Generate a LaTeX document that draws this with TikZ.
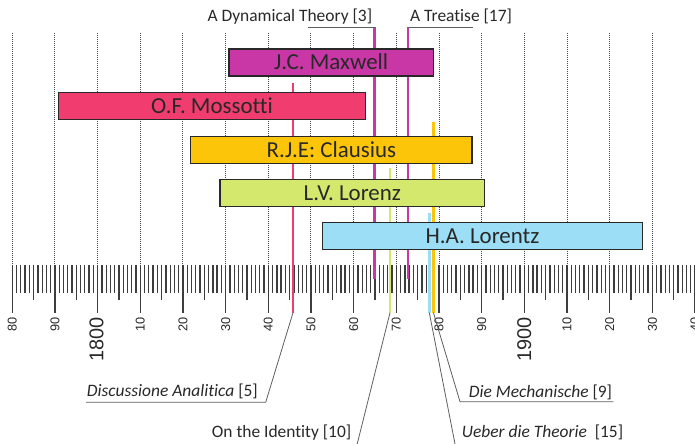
\documentclass[tikz,border=0pt]{standalone}
\usepackage{fontspec}
\setmainfont{Carlito}[Ligatures=NoCommon]
\newfontfamily\axisfont{Liberation Sans}
\definecolor{maxcol}{RGB}{200,55,165}
\definecolor{moscol}{RGB}{240,60,110}
\definecolor{clacol}{RGB}{252,197,10}
\definecolor{lvlcol}{RGB}{212,232,110}
\definecolor{halcol}{RGB}{155,222,246}
\definecolor{inkcol}{RGB}{40,40,40}

\begin{document}
\begin{tikzpicture}[x=1bp, y=-1bp,
bar/.style = {draw=inkcol, line width=1.2bp, minimum height=27bp, inner sep=0pt,
  text height=14.8bp, text depth=0pt, font=\fontsize{23}{23}\selectfont, text=inkcol},
event/.style = {line width=2.4bp},
lead/.style = {draw=inkcol!75, line width=0.8bp},
ref/.style = {font=\fontsize{17.5}{17.5}\selectfont, text=inkcol, inner sep=0pt, anchor=base west},
decade/.style = {inkcol!85, densely dotted, line width=1bp},
tick/.style = {inkcol!90, line width=1.3bp},
axis/.style = {rotate=90, anchor=east, inner sep=0pt, text=inkcol,
  font=\axisfont\fontsize{12.8}{12.8}\selectfont},
axisbig/.style = {axis, font=\axisfont\fontsize{20}{20}\selectfont}]

    \clip (0,0) rectangle (695,444);

    % decades and year ticks
    \foreach \d in {0,...,16}
        \draw[decade] ({12.3+42.67*\d},33) -- ({12.3+42.67*\d},265);
    \foreach \t in {0,...,160} {
        \pgfmathsetmacro\len{mod(\t,10)==0 ? 312.7 : (mod(\t,5)==0 ? 300 : 292.7)}
        \draw[tick] ({12.3+4.267*\t},265) -- ({12.3+4.267*\t},\len);
    }
    \foreach \d/\lab in {0/80,1/90,3/10,4/20,5/30,6/40,7/50,8/60,9/70,10/80,11/90,13/10,14/20,15/30,16/40}
        \node[axis] (yr\d) at ({12.3+42.67*\d},317) {\lab};
    \node[axisbig] (yr1800) at (96.6,317) {1800};
    \node[axisbig] (yr1900) at (524.3,317) {1900};

    % publications
    \coordinate (dynTop) at (374.5,27);
    \coordinate (dynBot) at (374.5,279);
    \coordinate (treTop) at (408,27);
    \coordinate (treBot) at (408,279);
    \coordinate (disTop) at (293,83.3);
    \coordinate (disBot) at (293,312.7);
    \coordinate (idTop) at (390,168.3);
    \coordinate (idBot) at (390,312.7);
    \coordinate (ueTop) at (429.3,213.3);
    \coordinate (ueBot) at (429.3,312.7);
    \coordinate (mecTop) at (433.4,121.7);
    \coordinate (mecBot) at (433.4,312.7);

    \draw[event, maxcol] (dynTop) -- (dynBot);
    \draw[event, maxcol] (treTop) -- (treBot);
    \draw[event, moscol] (disTop) -- (disBot);
    \draw[event, lvlcol] (idTop) -- (idBot);
    \draw[event, halcol] (ueTop) -- (ueBot);
    \draw[event, clacol] (mecTop) -- (mecBot);

    % lives
    \node[bar, fill=maxcol, minimum width=204.5bp] (maxwell) at (331.25,62.5) {J.C. Maxwell};
    \node[bar, fill=moscol, minimum width=307.4bp] (mossotti) at (212,106.3) {O.F. Mossotti};
    \node[bar, fill=clacol, minimum width=281.3bp] (clausius) at (331.35,150) {R.J.E: Clausius};
    \node[bar, fill=lvlcol, minimum width=264.7bp] (lvlorenz) at (352.35,192.7) {L.V. Lorenz};
    \node[bar, fill=halcol, minimum width=319.6bp] (halorentz) at (482.5,236) {H.A. Lorentz};

    % references
    \node[ref] (dynLbl) at (207.3,21.7) {A Dynamical Theory [3]};
    \node[ref] (treLbl) at (410,21.7) {A Treatise [17]};
    \coordinate (dynEnd) at (307.5,27);
    \coordinate (treEnd) at (473.3,27);
    \draw[lead] (dynTop) -- (dynEnd);
    \draw[lead] (treTop) -- (treEnd);

    \node[ref] (disLbl) at (86.7,396) {\textit{Discussione Analitica} [5]};
    \coordinate (disR) at (265.7,402.3);
    \coordinate (disL) at (86,402.3);
    \draw[lead] (disBot) -- (disR) -- (disL);

    \node[ref] (idLbl) at (211.7,437) {On the Identity [10]};
    \coordinate (idEnd) at (355.7,450);
    \draw[lead] (idBot) -- (idEnd);

    \node[ref] (mecLbl) at (468.7,397) {\textit{Die Mechanische} [9]};
    \coordinate (mecL) at (460,401.7);
    \coordinate (mecR) at (613.3,401.7);
    \draw[lead] (mecBot) -- (mecL) -- (mecR);

    \node[ref] (ueLbl) at (461.7,437) {\textit{Ueber die Theorie}\ \ [15]};
    \coordinate (ueEnd) at (456.2,450);
    \draw[lead] (ueBot) -- (ueEnd);
\end{tikzpicture}
\end{document}
